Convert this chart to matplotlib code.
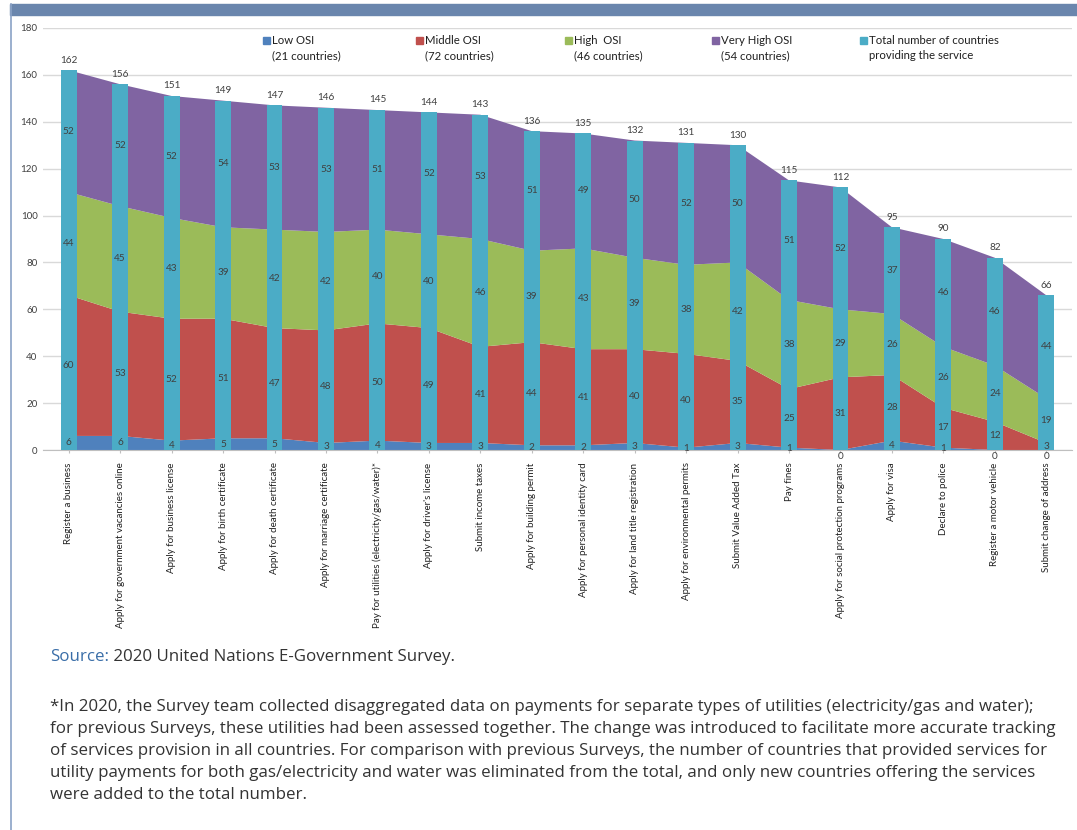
import matplotlib
matplotlib.use("Agg")
import matplotlib.pyplot as plt
from matplotlib.patches import Rectangle
from matplotlib.lines import Line2D
import numpy as np

plt.rcParams['font.family'] = ['Lato', 'DejaVu Sans']

services = [
    "Register a business",
    "Apply for government vacancies online",
    "Apply for business license",
    "Apply for birth certificate",
    "Apply for death certificate",
    "Apply for marriage certificate",
    "Pay for utilities (electricity/gas/water)*",
    "Apply for driver's license",
    "Submit income taxes",
    "Apply for building permit",
    "Apply for personal identity card",
    "Apply for land title registration",
    "Apply for environmental permits",
    "Submit Value Added Tax",
    "Pay fines",
    "Apply for social protection programs",
    "Apply for visa",
    "Declare to police",
    "Register a motor vehicle",
    "Submit change of address",
]
low_osi = [6, 6, 4, 5, 5, 3, 4, 3, 3, 2, 2, 3, 1, 3, 1, 0, 4, 1, 0, 0]
middle_osi = [60, 53, 52, 51, 47, 48, 50, 49, 41, 44, 41, 40, 40, 35, 25, 31, 28, 17, 12, 3]
high_osi = [44, 45, 43, 39, 42, 42, 40, 40, 46, 39, 43, 39, 38, 42, 38, 29, 26, 26, 24, 19]
very_high_osi = [52, 52, 52, 54, 53, 53, 51, 52, 53, 51, 49, 50, 52, 50, 51, 52, 37, 46, 46, 44]
total = [162, 156, 151, 149, 147, 146, 145, 144, 143, 136, 135, 132, 131, 130, 115, 112, 95, 90, 82, 66]

legend_labels = ["Low OSI\n(21 countries)", "Middle OSI\n(72 countries)", "High  OSI\n(46 countries)",
                 "Very High OSI\n(54 countries)", "Total number of countries\nproviding the service"]
colors = ["#4F81BD", "#C0504D", "#9BBB59", "#8064A2", "#4BACC6"]
txt_col = "#404040"

W, H = 1077, 830
fig = plt.figure(figsize=(W / 100, H / 100), dpi=100)

# frame of the box
fig.patches.append(Rectangle((10 / W, 1 - 15 / H), 1 - 10 / W, 11 / H, transform=fig.transFigure,
                             color="#6A86AD", zorder=0))
fig.lines.append(Line2D([10.5 / W, 10.5 / W], [0, 1 - 4 / H], transform=fig.transFigure,
                        color="#8AA2C6", lw=1.2))

ax = fig.add_axes([43 / W, (H - 450) / H, (1072 - 43) / W, (450 - 28) / H])
x = np.arange(len(services))

ax.stackplot(x, low_osi, middle_osi, high_osi, very_high_osi, colors=colors[:4], zorder=2, lw=0)
ax.bar(x, total, width=0.31, color=colors[4], zorder=3)

ax.set_xlim(-0.5, len(services) - 0.5)
ax.set_ylim(0, 180)
ax.set_yticks(range(0, 181, 20))
ax.yaxis.grid(True, color="#D9D9D9", lw=1)
ax.set_axisbelow(True)
for s in ["top", "right", "left"]:
    ax.spines[s].set_visible(False)
ax.spines["bottom"].set_color("#BFBFBF")
ax.tick_params(axis="y", length=0, pad=4, labelsize=7, labelcolor=txt_col)
ax.tick_params(axis="x", length=2, color="#BFBFBF", pad=7, labelsize=7, labelcolor="#202020")
ax.set_xticks(x)
ax.set_xticklabels(services, rotation=90, va="top", ha="center")

# data labels on the bars
stack = np.vstack([low_osi, middle_osi, high_osi, very_high_osi])
cum = np.cumsum(stack, axis=0)
for i in x:
    base = 0
    for k in range(4):
        v = stack[k, i]
        yy = base + v / 2 if v > 0 else -2.6
        ax.text(i, yy, str(v), ha="center", va="center", fontsize=7.2, color=txt_col,
                zorder=4, clip_on=False)
        base = cum[k, i]
    ax.annotate(str(total[i]), (i, total[i]), xytext=(0, 4), textcoords="offset points",
                ha="center", va="bottom", fontsize=7.2, color=txt_col, zorder=4)

# legend drawn in equal columns like the original
leg_x = [263, 416, 565, 712, 860]
for lx, lab, c in zip(leg_x, legend_labels, colors):
    fig.patches.append(Rectangle((lx / W, 1 - 44 / H), 7 / W, 7 / H, transform=fig.transFigure,
                                 color=c, zorder=5))
    fig.text((lx + 9) / W, 1 - 34.5 / H, lab, ha="left", va="top", fontsize=8.2, color="#202020",
             linespacing=1.5)

# source and footnote
fnt = "Open Sans"
fs = 12.2
src = fig.text(50 / W, 1 - 657 / H, "Source:", fontsize=fs, family=fnt, color="#3A6EA8",
               ha="left", va="center")
ax.annotate(" 2020 United Nations E-Government Survey.", xy=(1, 0.5), xycoords=src,
            ha="left", va="center", fontsize=fs, family=fnt, color="#333333")
notes = [
    "*In 2020, the Survey team collected disaggregated data on payments for separate types of utilities (electricity/gas and water);",
    "for previous Surveys, these utilities had been assessed together. The change was introduced to facilitate more accurate tracking",
    "of services provision in all countries. For comparison with previous Surveys, the number of countries that provided services for",
    "utility payments for both gas/electricity and water was eliminated from the total, and only new countries offering the services",
    "were added to the total number.",
]
for j, line in enumerate(notes):
    fig.text(50 / W, 1 - (707 + 22 * j) / H, line, fontsize=fs, family=fnt, color="#333333",
             ha="left", va="center")

fig.savefig("out.png", dpi=100)
